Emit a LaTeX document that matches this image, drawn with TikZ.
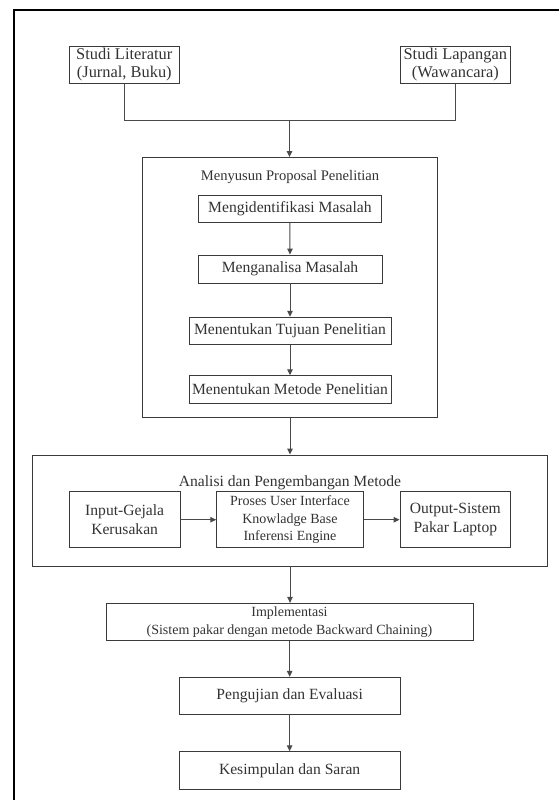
\documentclass[tikz,border=0pt]{standalone}
\usepackage{fontspec}
\setmainfont{Liberation Serif}
\newfontfamily\tnrfont{Liberation Serif}
\usetikzlibrary{arrows.meta}
\definecolor{boxc}{HTML}{3A3A3A}
\definecolor{linec}{HTML}{4A4A4A}
\definecolor{txt}{HTML}{333333}
\begin{document}
\begin{tikzpicture}[x=1pt,y=-1pt,
  boxa/.style={draw=boxc, line width=0.9pt, inner sep=0pt, align=center, text=txt},
  ttl/.style={inner sep=0pt, align=center, text=txt},
  fbig/.style={font=\tnrfont\fontsize{16.4}{18.3}\selectfont},
  fmain/.style={font=\tnrfont\fontsize{15.6}{18.6}\selectfont},
  fsmall/.style={font=\tnrfont\fontsize{14}{17.4}\selectfont},
  conn/.style={draw=linec, line width=1pt},
  arr/.style={conn, -{Triangle[length=6pt,width=5.5pt]}},
]
\useasboundingbox (0,0) rectangle (559,800);
\fill[white] (0,0) rectangle (559,800);
% outer frame (open to the right and bottom)
\draw[black, line width=1.3pt] (559,10) -- (14,10) -- (14,800);

% top sources
\node[boxa, fbig, minimum width=110pt, minimum height=37.3pt] (lit) at (124.3,64.7) {Studi Literatur\\(Jurnal, Buku)};
\node[boxa, fbig, minimum width=110.7pt, minimum height=37.3pt] (lap) at (455.3,64.7) {Studi Lapangan\\(Wawancara)};
\coordinate (junc) at (289.5,120);

% proposal container
\node[boxa, minimum width=294.6pt, minimum height=260.2pt] (prop) at (290,287.6) {};
\node[ttl, font=\tnrfont\fontsize{14.6}{17}\selectfont] (propt) at (290,176.7) {Menyusun Proposal Penelitian};
\node[boxa, fmain, minimum width=183.7pt, minimum height=27.7pt] (ident) at (289.9,208.9) {Mengidentifikasi Masalah};
\node[boxa, fmain, minimum width=184pt, minimum height=28pt] (anal) at (290,269) {Menganalisa Masalah};
\node[boxa, fmain, minimum width=202pt, minimum height=27pt] (tuj) at (290,330.7) {Menentukan Tujuan Penelitian};
\node[boxa, fmain, minimum width=202pt, minimum height=27.6pt] (met) at (290,389.5) {Menentukan Metode Penelitian};

% analysis container
\node[boxa, minimum width=514.6pt, minimum height=111pt] (ana) at (290,510.5) {};
\node[ttl, fmain] (anat) at (290,483) {Analisi dan Pengembangan Metode};
\node[boxa, fmain, minimum width=110.7pt, minimum height=56pt] (inp) at (124.65,519.7) {Input-Gejala\\Kerusakan};
\node[boxa, fsmall, minimum width=146.6pt, minimum height=56pt] (pro) at (290,519.7) {Proses User Interface\\Knowladge Base\\Inferensi Engine};
\node[boxa, fmain, minimum width=110.7pt, minimum height=56pt] (out) at (455.35,519.7) {Output-Sistem\\Pakar Laptop};

% lower chain
\node[boxa, fsmall, minimum width=367pt, minimum height=37.4pt] (impl) at (289.5,622) {Implementasi\\(Sistem pakar dengan metode Backward Chaining)};
\node[boxa, fmain, minimum width=220.7pt, minimum height=37pt] (peng) at (289.65,695.8) {Pengujian dan Evaluasi};
\node[boxa, fmain, minimum width=220.7pt, minimum height=37.3pt] (kes) at (289.65,770.35) {Kesimpulan dan Saran};

% connectors
\draw[conn] (lit.south) |- (junc);
\draw[conn] (lap.south) |- (junc);
\draw[arr] (junc) -- (junc |- prop.north);
\draw[arr] (ident) -- (anal);
\draw[arr] (anal) -- (tuj);
\draw[arr] (tuj) -- (met);
\draw[arr] (prop) -- (ana);
\draw[arr] (inp) -- (pro);
\draw[arr] (pro) -- (out);
\draw[arr] (ana.south) -- (ana.south |- impl.north);
\draw[arr] (impl.south -| peng.north) -- (peng.north);
\draw[arr] (peng) -- (kes);
\end{tikzpicture}
\end{document}
